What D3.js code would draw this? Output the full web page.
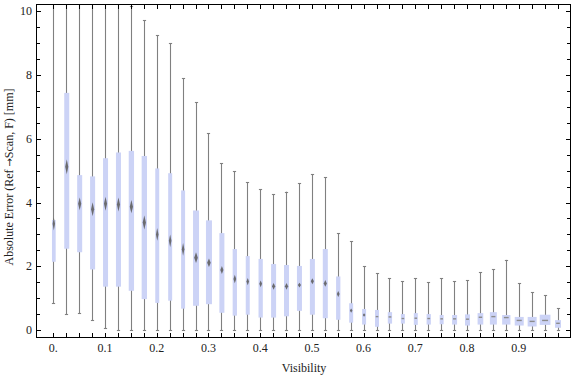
<!DOCTYPE html>
<html>
<head>
<meta charset="utf-8">
<script src="https://cdn.jsdelivr.net/npm/d3@7"></script>
<style>
  html, body { margin: 0; padding: 0; background: #fff; }
  svg { display: block; }
  text { font-family: "Liberation Serif", "Times New Roman", serif; fill: #222; }
</style>
</head>
<body>
<svg id="chart" width="576" height="377"></svg>
<script>
// ---- data ----
const visibility = d3.range(40).map(i => +(i * 0.025).toFixed(3));
const whiskerLow = [0.84, 0.50, 0.52, 0.30, 0.05, 0.00, 0.00, 0.00, 0.00, 0.00,
                    0.00, 0.00, 0.00, 0.00, 0.00, 0.00, 0.00, 0.00, 0.00, 0.00,
                    0.00, 0.00, 0.00, 0.00, 0.00, 0.00, 0.00, 0.00, 0.00, 0.00,
                    0.00, 0.00, 0.00, 0.00, 0.00, 0.00, 0.00, 0.00, 0.00, 0.00];
const q1 = [2.14, 2.55, 2.44, 1.90, 1.36, 1.36, 1.23, 0.97, 0.85, 0.92,
            0.67, 0.76, 0.81, 0.54, 0.45, 0.48, 0.39, 0.39, 0.43, 0.60,
            0.48, 0.37, 0.32, 0.23, 0.17, 0.10, 0.20, 0.20, 0.16, 0.17,
            0.18, 0.17, 0.14, 0.17, 0.17, 0.17, 0.14, 0.11, 0.16, 0.07];
const median = [3.33, 5.12, 3.96, 3.79, 3.96, 3.94, 3.87, 3.37, 3.00, 2.80,
                2.53, 2.27, 2.11, 1.88, 1.60, 1.52, 1.45, 1.37, 1.37, 1.41,
                1.53, 1.46, 1.13, 0.61, 0.47, 0.42, 0.41, 0.36, 0.37, 0.36,
                0.35, 0.35, 0.34, 0.40, 0.42, 0.39, 0.30, 0.27, 0.30, 0.21];
const q3 = [3.45, 7.44, 4.86, 4.82, 5.39, 5.57, 5.62, 5.46, 5.07, 4.92,
            4.38, 3.75, 3.44, 3.04, 2.54, 2.32, 2.23, 2.07, 2.04, 2.01,
            2.23, 2.54, 1.68, 0.84, 0.66, 0.63, 0.56, 0.50, 0.53, 0.50,
            0.47, 0.47, 0.49, 0.53, 0.56, 0.47, 0.41, 0.41, 0.48, 0.31];
const whiskerHigh = [12.4, 14.6, 13.5, 12.8, 12.9, 11.6, 10.17, 9.72, 9.26, 9.00,
                     7.90, 7.14, 6.17, 5.23, 4.98, 4.63, 4.41, 4.26, 4.34, 4.60,
                     4.89, 4.79, 3.03, 2.78, 2.00, 1.78, 1.62, 1.53, 1.62, 1.50,
                     1.63, 1.53, 1.56, 1.81, 1.91, 2.20, 1.46, 1.18, 1.09, 0.68];
// half-width of the median confidence interval (error units)
const medianCI = [0.20, 0.23, 0.20, 0.22, 0.22, 0.22, 0.21, 0.22, 0.20, 0.20,
                  0.20, 0.17, 0.13, 0.125, 0.13, 0.115, 0.105, 0.105, 0.105, 0.073,
                  0.094, 0.105, 0.094, 0.068, 0.057, 0.047, 0.03, 0.03, 0.026, 0.026,
                  0.02, 0.02, 0.02, 0.03, 0.03, 0.015, 0.015, 0.015, 0.015, 0.015];
// bin width in visibility units
const binWidth = [0.0072, 0.0097, 0.0097, 0.0097, 0.0097, 0.0097, 0.0103, 0.0103, 0.0077, 0.0077,
                  0.0077, 0.0116, 0.0116, 0.0097, 0.0083, 0.0077, 0.0083, 0.0097, 0.0097, 0.0097,
                  0.0097, 0.0097, 0.0083, 0.0077, 0.0077, 0.0077, 0.0083, 0.0077, 0.0077, 0.0083,
                  0.0077, 0.0097, 0.0097, 0.011, 0.0135, 0.016, 0.0174, 0.0174, 0.0207, 0.0116];
const xTickValues = [0, 0.1, 0.2, 0.3, 0.4, 0.5, 0.6, 0.7, 0.8, 0.9];
const xTickLabels = ["0.", "0.1", "0.2", "0.3", "0.4", "0.5", "0.6", "0.7", "0.8", "0.9"];
const yTickValues = [0, 2, 4, 6, 8, 10];
const xTitle = "Visibility";
const yTitleParts = ["Absolute Error (Ref ", "\u2192", "Scan, F) [mm]"];

// ---- layout ----
const L = 36, R = 571, T = 4, B = 337;
const svg = d3.select("#chart");
const x = d3.scaleLinear().domain([-0.0335, 1.0011]).range([L, R]);
const y = d3.scaleLinear().domain([-0.2196, 10.229]).range([B, T]);

const defs = svg.append("defs");
defs.append("clipPath").attr("id", "clip")
  .append("rect").attr("x", L).attr("y", T).attr("width", R - L).attr("height", B - T);
const blur = defs.append("filter").attr("id", "soft")
  .attr("x", "-50%").attr("y", "-50%").attr("width", "200%").attr("height", "200%");
blur.append("feGaussianBlur").attr("stdDeviation", 0.7);

const rows = visibility.map((v, i) => ({
  v, lo: whiskerLow[i], q1: q1[i], med: median[i], q3: q3[i], hi: whiskerHigh[i],
  ci: medianCI[i], w: binWidth[i]
}));

const g = svg.append("g").attr("clip-path", "url(#clip)");

// whiskers
g.selectAll("line.wh").data(rows).join("line")
  .attr("class", "wh")
  .attr("x1", d => Math.round(x(d.v)) + 0.5).attr("x2", d => Math.round(x(d.v)) + 0.5)
  .attr("y1", d => y(d.lo)).attr("y2", d => y(d.hi))
  .attr("stroke", "#808080").attr("stroke-width", 1.1);
// caps
["lo", "hi"].forEach(k => {
  g.selectAll("line.cap" + k).data(rows).join("line")
    .attr("class", "cap" + k)
    .attr("x1", d => Math.round(x(d.v)) + 0.5 - 1.6).attr("x2", d => Math.round(x(d.v)) + 0.5 + 1.6)
    .attr("y1", d => Math.round(y(d[k])) + 0.5).attr("y2", d => Math.round(y(d[k])) + 0.5)
    .attr("stroke", "#808080").attr("stroke-width", 1.1);
});

// boxes
g.selectAll("rect.box").data(rows).join("rect")
  .attr("class", "box")
  .attr("x", d => x(d.v - d.w / 2) + 0.5)
  .attr("width", d => x(d.v + d.w / 2) - x(d.v - d.w / 2))
  .attr("y", d => y(d.q3))
  .attr("height", d => y(d.q1) - y(d.q3))
  .attr("fill", "#ccd3f6");

// median markers
const small = d => (y(d.med - d.ci) - y(d.med)) < 1.6;
g.selectAll("path.med").data(rows).join("path")
  .attr("class", "med")
  .attr("d", d => {
    const cx = x(d.v) + 0.5;
    const bw = x(d.v + d.w / 2) - x(d.v - d.w / 2);
    const mw = 0.5 * bw + 0.6;
    const cy = y(d.med);
    const h = Math.max(y(d.med - d.ci) - cy, 0.9);
    if (small(d)) {
      return `M${cx - mw / 2},${cy - 0.7}H${cx + mw / 2}V${cy + 0.7}H${cx - mw / 2}Z`;
    }
    return `M${cx},${cy - h}L${cx + mw / 2},${cy}L${cx},${cy + h}L${cx - mw / 2},${cy}Z`;
  })
  .attr("fill", d => small(d) ? "#8c8c8c" : "#606060")
  .attr("fill-opacity", d => small(d) ? 1 : 0.9)
  .attr("filter", d => small(d) ? null : "url(#soft)");

// frame
svg.append("rect").attr("x", L + 0.5).attr("y", T + 0.5)
  .attr("width", R - L - 1).attr("height", B - T)
  .attr("fill", "none").attr("stroke", "#000").attr("stroke-width", 1)
  .attr("shape-rendering", "crispEdges");

// x ticks (every bin) on bottom & top, pointing inward
const ticks = svg.append("g").attr("stroke", "#000").attr("stroke-width", 1)
  .attr("shape-rendering", "crispEdges");
visibility.forEach(v => {
  const px = Math.round(x(v)) + 0.5;
  ticks.append("line").attr("x1", px).attr("x2", px).attr("y1", B + 0.5).attr("y2", B - 4);
  ticks.append("line").attr("x1", px).attr("x2", px).attr("y1", T + 0.5).attr("y2", T + 4.5);
});
// y ticks every 0.5 on left & right
d3.range(0, 10.01, 0.5).forEach(v => {
  const py = Math.round(y(v)) + 0.5;
  const len = (v % 2 === 0) ? 4.5 : 3.5;
  ticks.append("line").attr("x1", L + 0.5).attr("x2", L + 0.5 + len).attr("y1", py).attr("y2", py);
  ticks.append("line").attr("x1", R - 0.5).attr("x2", R - 0.5 - len).attr("y1", py).attr("y2", py);
});

// tick labels
svg.append("g").selectAll("text").data(xTickValues).join("text")
  .attr("x", d => x(d)).attr("y", 352)
  .attr("text-anchor", "middle").attr("font-size", 12)
  .text((d, i) => xTickLabels[i]);
svg.append("g").selectAll("text").data(yTickValues).join("text")
  .attr("x", 32).attr("y", d => y(d)).attr("dy", "0.35em")
  .attr("text-anchor", "end").attr("font-size", 12)
  .text(d => d);

// titles
svg.append("text").attr("x", 304).attr("y", 372)
  .attr("text-anchor", "middle").attr("font-size", 12).text(xTitle);
const yt = svg.append("text").attr("transform", "translate(12.5,177) rotate(-90)")
  .attr("text-anchor", "middle").attr("font-size", 12);
yt.append("tspan").text(yTitleParts[0]);
yt.append("tspan").style("font-family", "'DejaVu Sans'").attr("font-size", 10).text(yTitleParts[1]);
yt.append("tspan").text(yTitleParts[2]);
</script>
</body>
</html>
